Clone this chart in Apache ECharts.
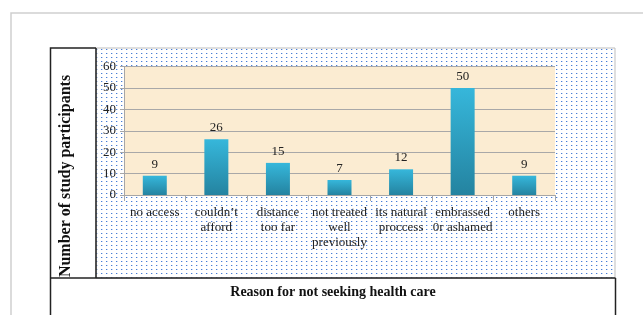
<!DOCTYPE html>
<html>
<head>
<meta charset="utf-8" />
<script src="https://cdn.jsdelivr.net/npm/echarts@6/dist/echarts.min.js"></script>
<style>
  html, body { margin: 0; padding: 0; background: #fff; }
  #main { width: 643px; height: 315px; }
</style>
</head>
<body>
<div id="main"></div>
<script type="text/javascript">
    // data
    var reasons = ['no access', 'couldn\u2019t\nafford', 'distance\ntoo far', 'not treated\nwell\npreviously',
                   'its natural\nproccess', 'embrassed\n0r ashamed', 'others'];
    var participants = [9, 26, 15, 7, 12, 50, 9];
    var yTicks = [0, 10, 20, 30, 40, 50, 60];

    // small dotted pattern for the chart area background
    var dots = document.createElement('canvas');
    dots.width = 5;
    dots.height = 4;
    var ctx = dots.getContext('2d');
    ctx.fillStyle = '#fff';
    ctx.fillRect(0, 0, 5, 4);
    ctx.fillStyle = 'rgb(70,125,215)';
    ctx.fillRect(1, 1, 1, 1);
    ctx.fillStyle = 'rgb(200,215,240)';
    ctx.fillRect(2, 1, 1, 1);

    var serif = 'Liberation Serif, Times New Roman, serif';
    var myChart = echarts.init(document.getElementById('main'));

    var option = {
        animation: false,
        backgroundColor: '#fff',
        grid: {
            left: 124, right: 88, top: 66.5, bottom: 120,
            show: true,
            backgroundColor: '#fbecd2',
            borderWidth: 0
        },
        graphic: [
            { type: 'rect', z: -5, shape: { x: 11, y: 13, width: 700, height: 400 },
              style: { fill: '#fff', stroke: '#cfcfcf', lineWidth: 1.5 } },
            { type: 'rect', z: -4, shape: { x: 96, y: 48, width: 519, height: 230 },
              style: { fill: { image: dots, repeat: 'repeat' }, stroke: '#bdbdbd', lineWidth: 1 } },
            { type: 'polyline', z: -3, shape: { points: [[96, 48], [50.5, 48], [50.5, 320]] },
              style: { fill: null, stroke: '#222', lineWidth: 1.5 } },
            { type: 'line', z: -3, shape: { x1: 96, y1: 48, x2: 96, y2: 278 },
              style: { stroke: '#222', lineWidth: 1.5 } },
            { type: 'line', z: -3, shape: { x1: 50, y1: 278, x2: 615.5, y2: 278 },
              style: { stroke: '#222', lineWidth: 1.5 } },
            { type: 'line', z: -3, shape: { x1: 615.5, y1: 278, x2: 615.5, y2: 320 },
              style: { stroke: '#222', lineWidth: 1.5 } },
            { type: 'text', x: 333, y: 285,
              style: { text: 'Reason for not seeking health care', font: 'bold 14px ' + serif,
                       fill: '#111', align: 'center', verticalAlign: 'top' } },
            { type: 'text', x: 66, y: 176, rotation: Math.PI / 2,
              style: { text: 'Number of study participants', font: 'bold 16px ' + serif,
                       fill: '#111', align: 'center', verticalAlign: 'middle' } }
        ],
        xAxis: {
            type: 'category',
            data: reasons,
            axisLine: { lineStyle: { color: '#a6a6a6' } },
            axisTick: { show: true, length: 6, lineStyle: { color: '#a6a6a6' } },
            axisLabel: {
                interval: 0, margin: 10,
                fontFamily: serif, fontSize: 13, lineHeight: 15, color: '#222'
            }
        },
        yAxis: {
            type: 'value',
            min: 0, max: 60, interval: 10,
            axisLine: { show: true, lineStyle: { color: '#a6a6a6' } },
            axisTick: { show: true, length: 4, lineStyle: { color: '#a6a6a6' } },
            axisLabel: {
                margin: 8, fontFamily: serif, fontSize: 13, color: '#222',
                formatter: function (v) { return yTicks.indexOf(v) >= 0 ? String(v) : ''; }
            },
            splitLine: { lineStyle: { color: '#a8a8a8', width: 1 } }
        },
        series: [{
            type: 'bar',
            data: participants,
            barWidth: 24,
            itemStyle: {
                color: new echarts.graphic.LinearGradient(0, 0, 0, 1, [
                    { offset: 0, color: '#36b7db' },
                    { offset: 1, color: '#2483a0' }
                ])
            },
            label: {
                show: true, position: 'top', distance: 5,
                fontFamily: serif, fontSize: 13, color: '#222'
            }
        }]
    };
    myChart.setOption(option);
</script>
</body>
</html>
